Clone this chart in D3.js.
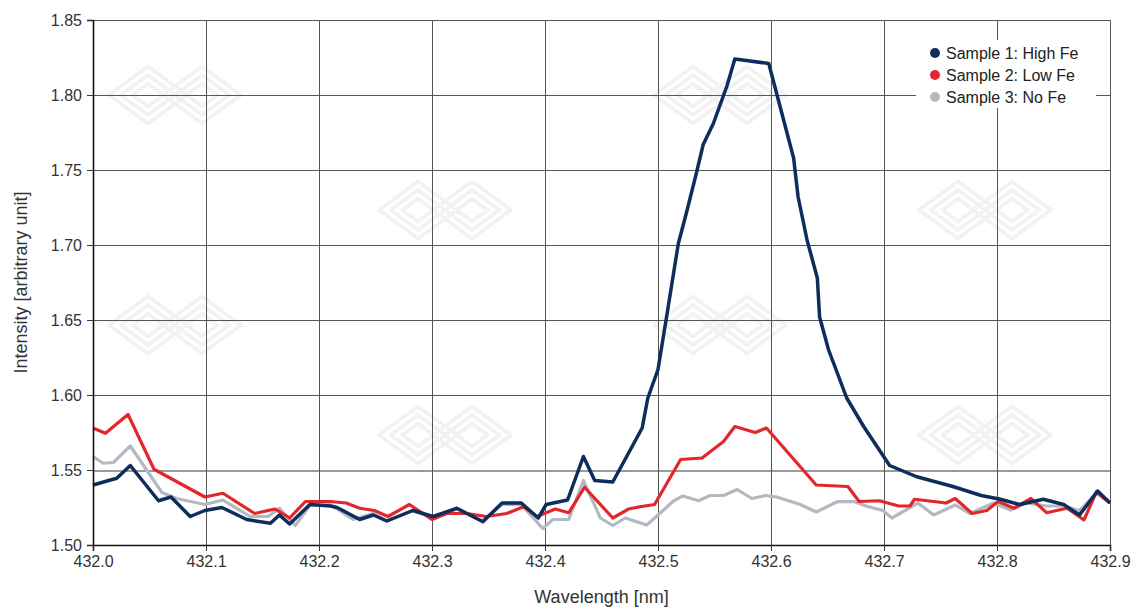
<!DOCTYPE html>
<html>
<head>
<meta charset="utf-8">
<script src="https://cdn.jsdelivr.net/npm/d3@7/dist/d3.min.js"></script>
<style>
  html, body { margin: 0; padding: 0; background: #fff; }
  svg { display: block; font-family: "Liberation Sans", Arial, sans-serif; }
</style>
</head>
<body>
<svg id="chart" width="1136" height="607"></svg>
<script>
// Emission spectra around the Fe line near 432.6 nm
const highFeWl = [432.000,432.021,432.033,432.058,432.069,432.086,432.099,432.114,432.136,432.157,432.165,432.174,432.192,432.210,432.216,432.236,432.248,432.260,432.283,432.301,432.322,432.345,432.362,432.379,432.394,432.401,432.420,432.434,432.444,432.460,432.486,432.491,432.500,432.508,432.518,432.525,432.534,432.540,432.549,432.561,432.568,432.598,432.605,432.620,432.624,432.632,432.641,432.643,432.651,432.667,432.682,432.705,432.729,432.761,432.786,432.803,432.820,432.841,432.859,432.873,432.889,432.900];
const highFe   = [1.540,1.5445,1.553,1.5295,1.532,1.519,1.523,1.525,1.517,1.5145,1.520,1.514,1.527,1.526,1.525,1.517,1.520,1.516,1.523,1.519,1.5245,1.5155,1.528,1.528,1.518,1.527,1.530,1.559,1.543,1.542,1.578,1.598,1.617,1.654,1.701,1.721,1.748,1.767,1.781,1.806,1.824,1.821,1.801,1.758,1.732,1.703,1.678,1.652,1.630,1.598,1.579,1.553,1.5455,1.539,1.533,1.5305,1.527,1.5305,1.527,1.520,1.536,1.528];

const lowFeWl = [432.000,432.011,432.031,432.054,432.099,432.115,432.143,432.161,432.174,432.188,432.210,432.224,432.236,432.249,432.261,432.280,432.300,432.313,432.331,432.348,432.366,432.381,432.393,432.409,432.421,432.435,432.460,432.474,432.484,432.497,432.520,432.539,432.558,432.568,432.586,432.596,432.640,432.668,432.678,432.696,432.713,432.723,432.727,432.744,432.755,432.763,432.778,432.791,432.801,432.815,432.830,432.844,432.862,432.877,432.888,432.900];
const lowFe   = [1.578,1.5745,1.587,1.5505,1.532,1.5345,1.521,1.524,1.518,1.529,1.529,1.528,1.5245,1.523,1.519,1.527,1.517,1.521,1.521,1.519,1.521,1.5255,1.519,1.524,1.5215,1.5385,1.518,1.524,1.5255,1.527,1.557,1.558,1.569,1.579,1.575,1.578,1.540,1.539,1.529,1.5295,1.526,1.526,1.5305,1.529,1.528,1.531,1.521,1.523,1.529,1.5245,1.531,1.5215,1.5245,1.5167,1.5355,1.528];

const noFeWl = [432.000,432.009,432.018,432.033,432.061,432.074,432.099,432.115,432.139,432.155,432.165,432.179,432.192,432.210,432.230,432.248,432.260,432.283,432.301,432.322,432.345,432.362,432.379,432.398,432.407,432.421,432.434,432.449,432.460,432.471,432.490,432.500,432.514,432.522,432.536,432.546,432.558,432.570,432.583,432.595,432.605,432.626,432.640,432.659,432.674,432.684,432.699,432.707,432.730,432.744,432.763,432.776,432.797,432.812,432.826,432.844,432.859,432.873,432.888,432.900];
const noFe   = [1.559,1.5545,1.555,1.566,1.535,1.531,1.527,1.530,1.519,1.519,1.5245,1.513,1.5265,1.527,1.517,1.521,1.516,1.523,1.518,1.524,1.516,1.527,1.527,1.511,1.517,1.517,1.543,1.518,1.513,1.518,1.5133,1.520,1.5295,1.5327,1.5295,1.533,1.533,1.537,1.531,1.533,1.532,1.527,1.522,1.529,1.5289,1.526,1.523,1.518,1.528,1.520,1.5267,1.521,1.528,1.5233,1.528,1.526,1.526,1.523,1.5345,1.528];

const xTicks = [432.0,432.1,432.2,432.3,432.4,432.5,432.6,432.7,432.8,432.9];
const yTicks = [1.50,1.55,1.60,1.65,1.70,1.75,1.80,1.85];
const seriesNames = ["Sample 1: High Fe","Sample 2: Low Fe","Sample 3: No Fe"];
const seriesColors = ["#0f2d5c","#e3262b","#b3b9c2"];

const svg = d3.select("#chart");
const plotL = 93, plotR = 1110, plotT = 20, plotB = 545;

const x = d3.scaleLinear().domain([432.0, 432.9]).range([plotL, plotR]);
const y = d3.scaleLinear().domain([1.50, 1.85]).range([plotB, plotT]);

// faint background emblems
const emblem = (g, cx, cy) => {
  const grp = g.append("g").attr("transform", `translate(${cx},${cy})`)
    .attr("fill", "none").attr("stroke", "#f2f2f2").attr("stroke-width", 4)
    .attr("stroke-linejoin", "round");
  [-27, 27].forEach(dx => {
    [30, 21, 12].forEach(r => {
      grp.append("path")
        .attr("d", `M${dx - r * 1.3},0 L${dx},${-r * 0.95} L${dx + r * 1.3},0 L${dx},${r * 0.95} Z`);
    });
  });
};
const emb = svg.append("g");
[[175, 95], [720, 95], [445, 210], [985, 210], [175, 325], [720, 325], [445, 435], [985, 435]]
  .forEach(([cx, cy]) => emblem(emb, cx, cy));

// grid
const grid = svg.append("g").attr("stroke", "#555").attr("stroke-width", 1).attr("shape-rendering", "crispEdges");
grid.selectAll("line.h").data(yTicks.slice(1)).join("line")
  .attr("x1", plotL).attr("x2", plotR)
  .attr("y1", d => Math.round(y(d)) + 0.5).attr("y2", d => Math.round(y(d)) + 0.5)
  .attr("stroke", d => d === 1.55 ? "#9a9a9a" : "#555")
  .attr("stroke-width", d => d === 1.55 ? 2 : 1);
grid.selectAll("line.v").data(xTicks.slice(1)).join("line")
  .attr("y1", plotT).attr("y2", plotB)
  .attr("x1", d => Math.round(x(d)) + 0.5).attr("x2", d => Math.round(x(d)) + 0.5);

// spectra
const line = d3.line().x(d => x(d[0])).y(d => y(d[1]));
const series = [
  { wl: noFeWl, v: noFe, c: seriesColors[2], w: 3.2 },
  { wl: lowFeWl, v: lowFe, c: seriesColors[1], w: 3.2 },
  { wl: highFeWl, v: highFe, c: seriesColors[0], w: 3.5 }
];
series.forEach(s => {
  const pts = s.wl.map((w, i) => [w, s.v[i]]).filter(p => p[1] != null);
  svg.append("path")
    .datum(pts)
    .attr("fill", "none").attr("stroke", s.c).attr("stroke-width", s.w)
    .attr("stroke-linejoin", "round")
    .attr("d", line);
});

// axes
const xAxis = d3.axisBottom(x).tickValues(xTicks).tickFormat(d3.format(".1f")).tickSizeOuter(0).tickSize(6).tickPadding(5);
const yAxis = d3.axisLeft(y).tickValues(yTicks).tickFormat(d3.format(".2f")).tickSizeOuter(0).tickSize(6).tickPadding(5);

const gx = svg.append("g").attr("transform", `translate(0,${plotB})`).call(xAxis);
const gy = svg.append("g").attr("transform", `translate(${plotL},0)`).call(yAxis);
[gx, gy].forEach(g => {
  g.select(".domain").attr("stroke", "#111").attr("stroke-width", 1.6);
  g.selectAll(".tick line").attr("stroke", "#333");
  g.selectAll(".tick text").attr("fill", "#333").attr("font-size", 16)
    .attr("font-family", "Liberation Sans, Arial, sans-serif");
});

// axis titles
svg.append("text").attr("x", (plotL + plotR) / 2).attr("y", 603)
  .attr("text-anchor", "middle").attr("font-size", 18).attr("fill", "#333")
  .text("Wavelength [nm]");
svg.append("text").attr("transform", `translate(27,${(plotT + plotB) / 2}) rotate(-90)`)
  .attr("text-anchor", "middle").attr("font-size", 18).attr("fill", "#333")
  .text("Intensity [arbitrary unit]");

// legend
const lg = svg.append("g").attr("transform", "translate(916,40)");
lg.append("rect").attr("width", 180).attr("height", 68).attr("fill", "#fff");
seriesNames.forEach((n, i) => {
  const row = lg.append("g").attr("transform", `translate(0,${13 + i * 22})`);
  row.append("circle").attr("cx", 19).attr("cy", 0).attr("r", 5).attr("fill", seriesColors[i]);
  row.append("text").attr("x", 30).attr("y", 0).attr("dy", "0.36em")
    .attr("font-size", 16).attr("fill", "#222").text(n);
});
</script>
</body>
</html>
